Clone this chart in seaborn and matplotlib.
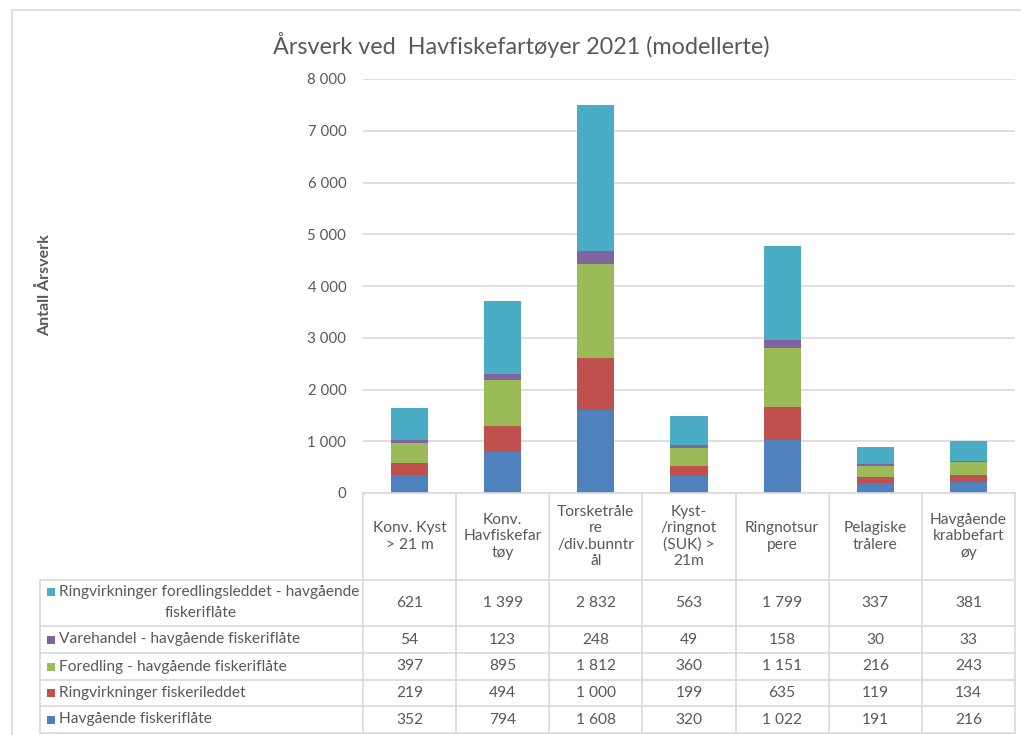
import matplotlib
matplotlib.use("Agg")
import matplotlib.pyplot as plt
from matplotlib.lines import Line2D
from matplotlib.patches import Rectangle
from matplotlib.ticker import FuncFormatter
import numpy as np
import pandas as pd
import seaborn as sns

# ---- data -------------------------------------------------------------
categories = [
    "Konv. Kyst\n> 21 m",
    "Konv.\nHavfiskefar\ntøy",
    "Torsketråle\nre\n/div.bunntr\nål",
    "Kyst-\n/ringnot\n(SUK) >\n21m",
    "Ringnotsur\npere",
    "Pelagiske\ntrålere",
    "Havgående\nkrabbefart\nøy",
]

# stacked from bottom to top
series_names = [
    "Havgående fiskeriflåte",
    "Ringvirkninger fiskerileddet",
    "Foredling - havgående fiskeriflåte",
    "Varehandel - havgående fiskeriflåte",
    "Ringvirkninger foredlingsleddet - havgående fiskeriflåte",
]
havgaende = [352, 794, 1608, 320, 1022, 191, 216]
ringv_fiske = [219, 494, 1000, 199, 635, 119, 134]
foredling = [397, 895, 1812, 360, 1151, 216, 243]
varehandel = [54, 123, 248, 49, 158, 30, 33]
ringv_foredl = [621, 1399, 2832, 563, 1799, 337, 381]

series_values = [havgaende, ringv_fiske, foredling, varehandel, ringv_foredl]
series_colors = ["#4F81BD", "#C0504D", "#9BBB59", "#8064A2", "#4BACC6"]

# rows of the data table, top to bottom
table_order = [4, 3, 2, 1, 0]
table_labels = [
    ["Ringvirkninger foredlingsleddet - havgående", "fiskeriflåte"],
    ["Varehandel - havgående fiskeriflåte"],
    ["Foredling - havgående fiskeriflåte"],
    ["Ringvirkninger fiskerileddet"],
    ["Havgående fiskeriflåte"],
]

title = "Årsverk ved  Havfiskefartøyer 2021 (modellerte)"
ylabel = "Antall Årsverk"
yticks = [0, 1000, 2000, 3000, 4000, 5000, 6000, 7000, 8000]

# ---- style ------------------------------------------------------------
sns.set_theme(style="white")
plt.rcParams["font.family"] = ["Lato", "DejaVu Sans"]
TXT = "#595959"
GRID = "#D9D9D9"
FS = 11.2

W, H = 1021, 735
fig = plt.figure(figsize=(W / 100, H / 100), dpi=100)


def fx(px):
    return px / W


def fy(py):
    return 1 - py / H


ax_left, ax_right, ax_top, ax_bottom = 363, 1015, 79, 493
ax = fig.add_axes([fx(ax_left), fy(ax_bottom), fx(ax_right) - fx(ax_left),
                   fy(ax_top) - fy(ax_bottom)])

# ---- stacked bars (cumulative layers, drawn top layer first) -----------
labels_flat = [c.replace("\n", " ") for c in categories]
cum = np.cumsum(np.array(series_values), axis=0)
for k in range(len(series_values) - 1, -1, -1):
    df = pd.DataFrame({"kategori": labels_flat, "verdi": cum[k]})
    sns.barplot(data=df, x="kategori", y="verdi", order=labels_flat,
                color=series_colors[k], saturation=1, width=0.4,
                linewidth=0, ax=ax)

ax.set_xlim(-0.5, len(categories) - 0.5)
ax.set_ylim(0, 8000)
ax.set_yticks(yticks)
ax.yaxis.set_major_formatter(FuncFormatter(lambda v, p: f"{int(v):,}".replace(",", " ")))
ax.tick_params(axis="y", length=0, pad=12, labelsize=10.8, labelcolor=TXT)
ax.set_xticks([])
ax.set_xlabel("")
ax.set_ylabel("")
ax.grid(axis="y", color=GRID, linewidth=1.2)
ax.set_axisbelow(True)
for s in ["top", "right", "left"]:
    ax.spines[s].set_visible(False)
ax.spines["bottom"].set_color(GRID)
ax.spines["bottom"].set_linewidth(1.2)

# ---- titles -----------------------------------------------------------
fig.text(fx(521), fy(45), title, ha="center", va="center", fontsize=16.8, color=TXT)
fig.text(fx(45), fy(285), ylabel, ha="center", va="center", rotation=90,
         fontsize=11.5, fontweight="bold", color=TXT)

# ---- data table -------------------------------------------------------
def hline(x0, x1, y):
    fig.add_artist(Line2D([fx(x0), fx(x1)], [fy(y), fy(y)], color=GRID, lw=1.2))


def vline(x, y0, y1):
    fig.add_artist(Line2D([fx(x), fx(x)], [fy(y0), fy(y1)], color=GRID, lw=1.2))


ncol = len(categories)
colw = (ax_right - ax_left) / ncol
edges = [ax_left + i * colw for i in range(ncol + 1)]
centers = [ax_left + (i + 0.5) * colw for i in range(ncol)]

row_lines = [580, 626, 653, 680, 706, 733]
tab_left = 40
table_top = ax_bottom

for e in edges:
    vline(e, table_top, row_lines[-1])
vline(tab_left, row_lines[0], row_lines[-1])
for y in row_lines:
    hline(tab_left, ax_right, y)

# header with category names
for c, lab in zip(centers, categories):
    fig.text(fx(c), fy((table_top + row_lines[0]) / 2), lab, ha="center", va="center",
             fontsize=FS, color=TXT, linespacing=1.2, multialignment="center")

# value rows
for r, k in enumerate(table_order):
    yc = (row_lines[r] + row_lines[r + 1]) / 2
    for c, v in zip(centers, series_values[k]):
        fig.text(fx(c), fy(yc), f"{v:,}".replace(",", " "), ha="center", va="center",
                 fontsize=FS, color=TXT)
    lines = table_labels[r]
    y_first = yc if len(lines) == 1 else yc - 11
    fig.add_artist(Rectangle((fx(47), fy(y_first + 4)), fx(8), 8 / H,
                             color=series_colors[k], lw=0))
    fig.text(fx(59), fy(y_first), lines[0], ha="left", va="center",
             fontsize=FS, color=TXT)
    if len(lines) > 1:
        fig.text(fx(201), fy(y_first + 21), lines[1],
                 ha="center", va="center", fontsize=FS, color=TXT)

# chart frame
fig.add_artist(Line2D([fx(12), fx(W)], [fy(10), fy(10)], color=GRID, lw=1.2))
fig.add_artist(Line2D([fx(12), fx(12)], [fy(10), fy(H)], color=GRID, lw=1.2))

fig.savefig("out.png", dpi=100)
